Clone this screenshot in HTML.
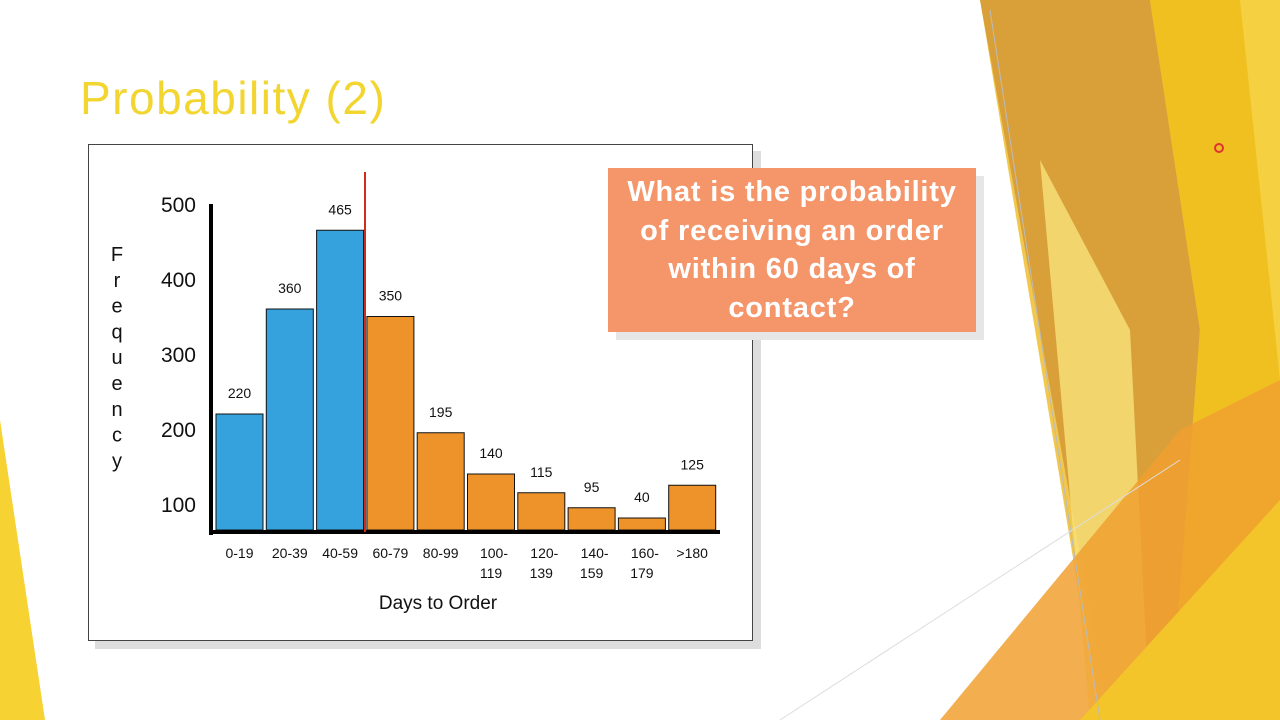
<!DOCTYPE html>
<html><head><meta charset="utf-8"><style>
body{margin:0;width:1280px;height:720px;overflow:hidden;background:#fff;font-family:"Liberation Sans",sans-serif;position:relative}
.abs{position:absolute}
</style></head><body>
<svg class="abs" style="left:0;top:0" width="1280" height="720">
<polygon points="0,420 45,720 0,720" fill="#F6D232"/>
<polygon points="980,0 1280,0 1280,720 1100,720" fill="#EFC23A" opacity="0.9"/>
<polygon points="980,0 1150,0 1200,330 1170,720 1110,720" fill="#D9A03A"/>
<polygon points="1150,0 1280,0 1280,720 1170,720 1200,330" fill="#F0C020"/>
<polygon points="1240,0 1280,0 1280,380" fill="#F5D040"/>
<polygon points="1040,160 1130,330 1150,720 1090,720" fill="#F8E27A" opacity="0.8"/>
<polygon points="940,720 1180,430 1280,380 1280,720" fill="#F0A030" opacity="0.85"/>
<polygon points="1080,720 1280,500 1280,720" fill="#F3C52A"/>
<line x1="990" y1="10" x2="1100" y2="720" stroke="#bbb" stroke-width="1"/>
<line x1="780" y1="720" x2="1180" y2="460" stroke="#ddd" stroke-width="1"/>
<circle cx="1219" cy="148" r="4" fill="none" stroke="#d33" stroke-width="2"/>
</svg>
<div class="abs" style="left:80px;top:71px;font-size:46px;letter-spacing:1.5px;color:#F2D530">Probability (2)</div>
<div class="abs" style="left:95px;top:151px;width:666px;height:498px;background:#ddd"></div>
<div class="abs" style="left:88px;top:144px;width:663px;height:495px;background:#fff;border:1px solid #444"></div>
<svg class="abs" id="chart" style="left:0;top:0" width="1280" height="720"></svg>
<div class="abs" style="left:616px;top:176px;width:368px;height:164px;background:#e6e6e6"></div>
<div class="abs" style="left:608px;top:168px;width:368px;height:164px;background:#F4956A;color:#fff;font-size:29px;font-weight:bold;letter-spacing:0.8px;text-align:center;line-height:38.5px;display:flex;align-items:center;justify-content:center"><div>What is the probability<br>of receiving an order<br>within 60 days of<br>contact?</div></div>
<script>
const categories=["0-19","20-39","40-59","60-79","80-99","100-\n119","120-\n139","140-\n159","160-\n179",">180"];
const values=[220,360,465,350,195,140,115,95,40,125];
const yTicks=[100,200,300,400,500];
const highlightCount=3;
const svg=document.getElementById('chart');
const NS="http://www.w3.org/2000/svg";
function el(t,a){const e=document.createElementNS(NS,t);for(const k in a)e.setAttribute(k,a[k]);svg.appendChild(e);return e;}
const base=530;
function y(v){return Math.min(579-0.75*v, base-12);}
function yt(v){return 579-0.75*v;}
function x(i){return 216+i*50.3;}
const bw=47;
values.forEach((v,i)=>{
 const r=el('rect',{x:x(i),y:y(v),width:bw,height:base-y(v),fill:i<highlightCount?'#35A2DD':'#EE922A',stroke:'#111','stroke-width':1});
 
 
 const t=el('text',{x:x(i)+bw/2,y:y(v)-16,'text-anchor':'middle','font-size':14,fill:'#111'});
 t.textContent=v;
 
 
 const parts=categories[i].split('\n');
 parts.forEach((p,j)=>{
  const c=el('text',{x:x(i)+bw/2+(j===0&&parts.length>1?3:0),y:558+j*20,'text-anchor':'middle','font-size':14,fill:'#111'});
  c.textContent=p;
  
  
 });
});
yTicks.forEach(v=>{
 const t=el('text',{x:196,y:yt(v)+8,'text-anchor':'end','font-size':21,fill:'#111'});
 t.textContent=v;
 
 
});
const ya=el('line',{x1:211,y1:204,x2:211,y2:535,stroke:'#000','stroke-width':4});


const xa=el('line',{x1:209,y1:532,x2:720,y2:532,stroke:'#000','stroke-width':4});


const rl=el('line',{x1:365,y1:172,x2:365,y2:532,stroke:'#D42A1A','stroke-width':2});


const xt=el('text',{x:438,y:609,'text-anchor':'middle','font-size':19,fill:'#111'});
xt.textContent='Days to Order';


"Frequency".split('').forEach((ch,i)=>{
 const t=el('text',{x:117,y:261+i*25.8,'text-anchor':'middle','font-size':20,fill:'#111'});
 t.textContent=ch;
 
 
});
</script>
</body></html>
